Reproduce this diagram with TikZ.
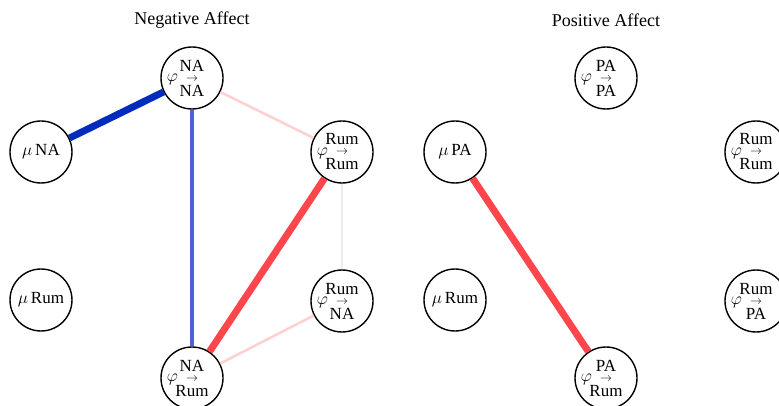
\documentclass[tikz,border=0pt]{standalone}
\usepackage{fontspec}
\setmainfont{Liberation Serif}
\usetikzlibrary{positioning}

\definecolor{negstrong}{RGB}{0,44,190}
\definecolor{negmid}{RGB}{80,96,218}
\definecolor{possoft}{RGB}{255,208,208}
\definecolor{posstrong}{RGB}{255,70,76}
\definecolor{faintedge}{RGB}{234,234,248}

\tikzset{
  var/.style={circle,draw,line width=1.4pt,minimum size=62pt,inner sep=0pt,
    font=\fontsize{17}{20}\selectfont},
  ar/.style={var,label={[xshift=-19.5pt,yshift=-1pt,inner sep=0pt,
    font=\fontsize{16}{18}\selectfont]center:$\varphi$}},
  title/.style={font=\fontsize{18}{20}\selectfont},
  edge/.style={line width=#1}
}
% stacked "from -> to" label, baselines 10pt and 15pt apart
\newcommand{\lag}[2]{\vbox{\baselineskip=0pt\lineskiplimit=-100pt\lineskip=0pt
  \halign{\hfil##\hfil\cr #1\cr\noalign{\kern10pt}$\scriptstyle\rightarrow$\cr
  \noalign{\kern15pt}#2\cr}}}

\begin{document}
\begin{tikzpicture}[x=1pt,y=-1pt]
  \useasboundingbox (0,0) rectangle (779,406);
  % negative affect
  \node[title] (tneg) at (192,20) {Negative Affect};
  \node[ar] (nana) at (192,78) {\lag{NA}{NA}};
  \node[var] (mna) at (41,152) {$\mu$\,NA};
  \node[ar] (rr) at (342,152) {\lag{Rum}{Rum}};
  \node[var] (mrum) at (41,300) {$\mu$\,Rum};
  \node[ar] (rna) at (342,301) {\lag{Rum}{NA}};
  \node[ar] (narum) at (192,378) {\lag{NA}{Rum}};
  \draw[edge=7pt,negstrong] (mna) -- (nana);
  \draw[edge=4pt,negmid] (nana) -- (narum);
  \draw[edge=2.5pt,possoft] (nana) -- (rr);
  \draw[edge=7pt,posstrong] (rr) -- (narum);
  \draw[edge=1.5pt,faintedge] (rr) -- (rna);
  \draw[edge=2.5pt,possoft] (rna) -- (narum);
  % positive affect
  \node[title] (tpos) at (606,20) {Positive Affect};
  \node[ar] (papa) at (606,78) {\lag{PA}{PA}};
  \node[var] (mpa) at (455,152) {$\mu$\,PA};
  \node[ar] (prr) at (756,152) {\lag{Rum}{Rum}};
  \node[var] (pmrum) at (455,300) {$\mu$\,Rum};
  \node[ar] (rpa) at (756,301) {\lag{Rum}{PA}};
  \node[ar] (parum) at (606,378) {\lag{PA}{Rum}};
  \draw[edge=7pt,posstrong] (mpa) -- (parum);
\end{tikzpicture}
\end{document}
